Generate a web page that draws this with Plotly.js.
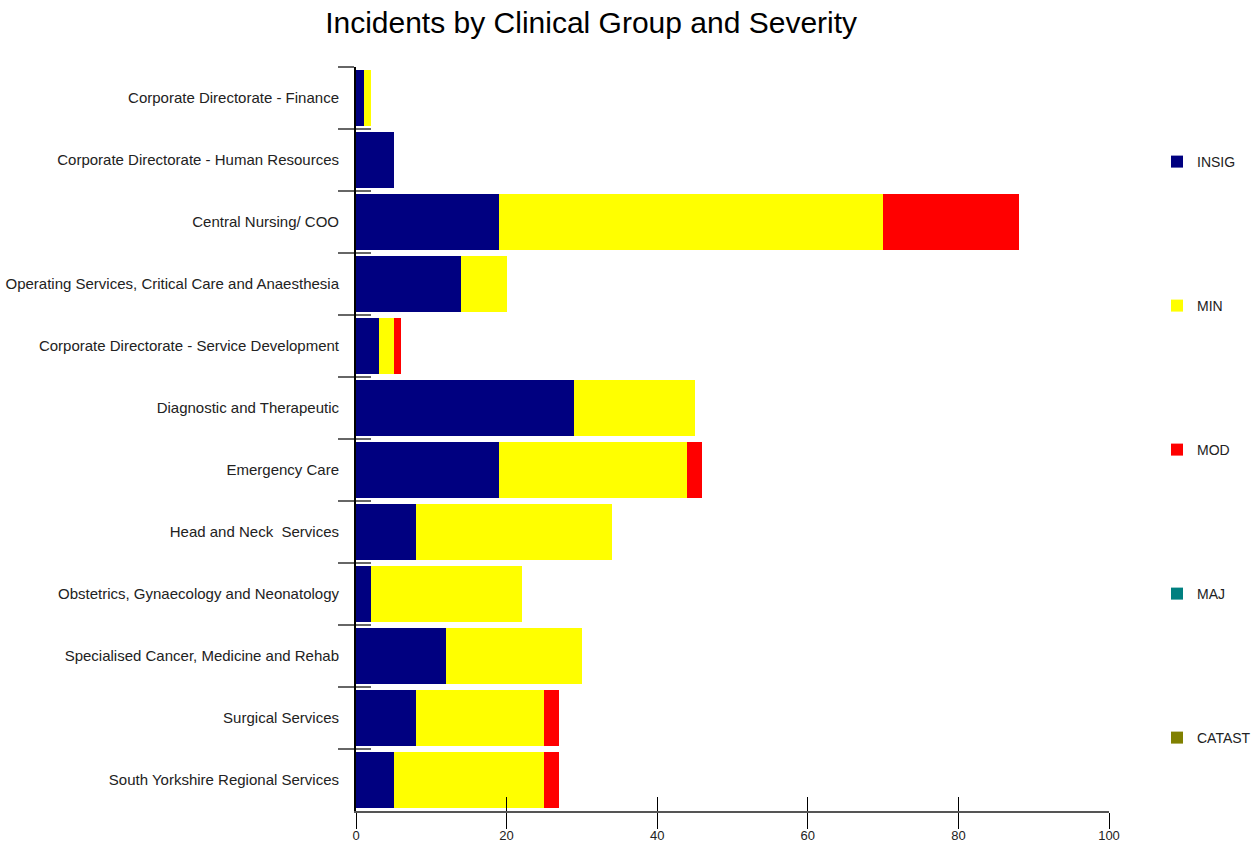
<!DOCTYPE html>
<html>
<head>
<meta charset="utf-8">
<script src="https://cdn.plot.ly/plotly-3.0.1.min.js"></script>
<style>html,body{margin:0;padding:0;background:#fff;}#chart{width:1255px;height:843px;}</style>
</head>
<body>
<div id="chart"></div>
<script>
const categories = [
  "Corporate Directorate - Finance",
  "Corporate Directorate - Human Resources",
  "Central Nursing/ COO",
  "Operating Services, Critical Care and Anaesthesia",
  "Corporate Directorate - Service Development",
  "Diagnostic and Therapeutic",
  "Emergency Care",
  "Head and Neck  Services",
  "Obstetrics, Gynaecology and Neonatology",
  "Specialised Cancer, Medicine and Rehab",
  "Surgical Services",
  "South Yorkshire Regional Services"
];
const insig  = [1, 5, 19, 14, 3, 29, 19, 8, 2, 12, 8, 5];
const minor  = [1, 0, 51, 6, 2, 16, 25, 26, 20, 18, 17, 20];
const moder  = [0, 0, 18, 0, 1, 0, 2, 0, 0, 0, 2, 2];
const major  = [0, 0, 0, 0, 0, 0, 0, 0, 0, 0, 0, 0];
const catast = [0, 0, 0, 0, 0, 0, 0, 0, 0, 0, 0, 0];
const xTicks = [0, 20, 40, 60, 80, 100];

const seriesNames = ["INSIG", "MIN", "MOD", "MAJ", "CATAST"];
const seriesVals = [insig, minor, moder, major, catast];
const seriesColors = ["#000080", "#FFFF00", "#FF0000", "#008080", "#808000"];

const traces = seriesNames.map((n, i) => ({
  type: "bar",
  orientation: "h",
  name: n,
  y: categories,
  x: seriesVals[i],
  marker: {color: seriesColors[i], line: {width: 0}},
  legendgroup: n,
  hoverinfo: "x+y+name"
}));

const layout = {
  width: 1255,
  height: 843,
  margin: {l: 356, r: 146, t: 67, b: 32, pad: 0},
  paper_bgcolor: "#fff",
  plot_bgcolor: "#fff",
  font: {family: "Liberation Sans, Arial, sans-serif", color: "#222", size: 13},
  title: {text: "Incidents by Clinical Group and Severity", font: {size: 30, color: "#000"},
          x: 0.471, xanchor: "center", xref: "container", y: 0.973, yanchor: "middle", yref: "container"},
  barmode: "stack",
  bargap: 0.1,
  xaxis: {
    range: [0, 100], tickvals: xTicks, ticktext: xTicks.map(String),
    showgrid: false, zeroline: false, showline: true, linecolor: "#555", linewidth: 2,
    ticks: "outside", ticklen: 16, tickcolor: "#000", tickwidth: 1,
    ticklabelstandoff: -5,
    tickfont: {size: 13, color: "#222"}, fixedrange: true
  },
  xaxis2: {
    overlaying: "x", matches: "x", anchor: "y", side: "bottom",
    tickvals: xTicks, showticklabels: false, showgrid: false, zeroline: false, showline: false,
    ticks: "inside", ticklen: 14, tickcolor: "#000", tickwidth: 1
  },
  yaxis: {
    type: "category", autorange: "reversed",
    showgrid: false, zeroline: false, showline: true, linecolor: "#000", linewidth: 2,
    ticks: "outside", tickson: "boundaries", ticklen: 16, tickcolor: "#666", tickwidth: 2,
    ticklabelstandoff: 12,
    tickfont: {size: 15, color: "#222"}, fixedrange: true
  },
  yaxis2: {
    type: "category", overlaying: "y", matches: "y", anchor: "x", side: "left",
    showticklabels: false, showgrid: false, zeroline: false, showline: false,
    ticks: "inside", tickson: "boundaries", ticklen: 15, tickcolor: "#666", tickwidth: 2
  },
  showlegend: true,
  legend: {
    x: 1157/1255, xref: "container", xanchor: "left",
    y: 1 - 146/843, yref: "container", yanchor: "top",
    tracegroupgap: 122.8, itemwidth: 30, maxheight: 800,
    font: {size: 14, color: "#222"}, bgcolor: "rgba(0,0,0,0)",
    traceorder: "grouped"
  }
};

// invisible helper trace so the overlay axes draw their ticks
traces.push({type: "bar", orientation: "h", y: categories, x: insig.map(() => 0),
  xaxis: "x2", yaxis: "y2", showlegend: false, hoverinfo: "skip", marker: {color: "rgba(0,0,0,0)"}});

Plotly.newPlot("chart", traces, layout, {displayModeBar: false, staticPlot: true});
</script>
</body>
</html>
